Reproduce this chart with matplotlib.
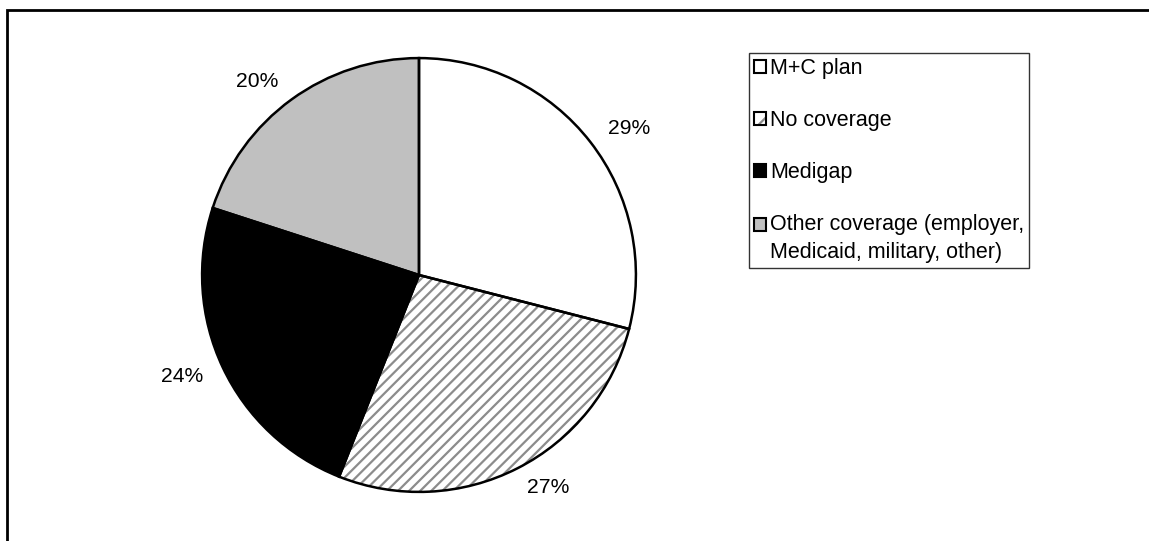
import matplotlib.pyplot as plt
from matplotlib.patches import Patch, Rectangle
from matplotlib.legend_handler import HandlerTuple, HandlerPatch

plt.rcParams['font.family'] = ['Liberation Sans', 'DejaVu Sans']
plt.rcParams['hatch.linewidth'] = 1.6

# Coverage shares
categories = ['M+C plan', 'No coverage', 'Medigap',
              'Other coverage (employer,\nMedicaid, military, other)']
shares = [29, 27, 24, 20]
fills = ['white', 'white', 'black', '#c0c0c0']
hatches = [None, '///', None, None]

W, H = 1149, 541
fig = plt.figure(figsize=(W / 100, H / 100), dpi=100)

# pie axes: centre (419, 275) px, radius 218 px
cx, cy, r = 419, 275, 218
ax = fig.add_axes([(cx - r) / W, (H - cy - r) / H, 2 * r / W, 2 * r / H])

wedges, texts = ax.pie(shares, colors=fills, startangle=90, counterclock=False,
                       labels=[f'{v}%' for v in shares], labeldistance=1.10,
                       wedgeprops=dict(linewidth=0, edgecolor='none'),
                       textprops=dict(fontsize=15.2))
for w, h in zip(wedges, hatches):
    if h:
        w.set_hatch(h)
        w.set_edgecolor('#8c8c8c')
        w.set_linewidth(0)

# black outlines drawn over the fills
outlines, _ = ax.pie(shares, colors=['none'] * 4, startangle=90, counterclock=False,
                     wedgeprops=dict(linewidth=1.8, edgecolor='black'))
ax.set_aspect('equal')
ax.set_xlim(-1.005, 1.005)
ax.set_ylim(-1.005, 1.005)


def first_line_box(legend, orig_handle, xdescent, ydescent, width, height, fontsize):
    # keep the marker level with the first line of a two-line label
    return Rectangle((-xdescent, -ydescent + 0.68 * fontsize), width, height)


handles = []
for f, h in zip(fills, hatches):
    if h:
        handles.append((Patch(facecolor='white', edgecolor='#8c8c8c', hatch='//', linewidth=0),
                        Patch(facecolor='none', edgecolor='black', linewidth=1.5)))
    else:
        handles.append(Patch(facecolor=f, edgecolor='black', linewidth=1.5))

leg = fig.legend(handles, categories, loc='upper left',
                 bbox_to_anchor=(749 / W, 1 - 53 / H),
                 handler_map={tuple: HandlerTuple(ndivide=1, pad=0),
                              handles[3]: HandlerPatch(patch_func=first_line_box)},
                 fontsize=15.5, frameon=True, fancybox=False, shadow=False,
                 handlelength=0.55, handleheight=0.55, handletextpad=0.2,
                 labelspacing=1.45, borderpad=0.22, borderaxespad=0)
leg.get_texts()[3].set_linespacing(1.4)
leg.get_frame().set_edgecolor('black')
leg.get_frame().set_linewidth(1.0)

# outer frame around the chart area
fig.add_artist(Rectangle((6.5 / W, -0.1), 1.2, 1.1 - 10 / H, transform=fig.transFigure,
                         fill=False, edgecolor='black', linewidth=2))

fig.savefig('out.png', dpi=100)
